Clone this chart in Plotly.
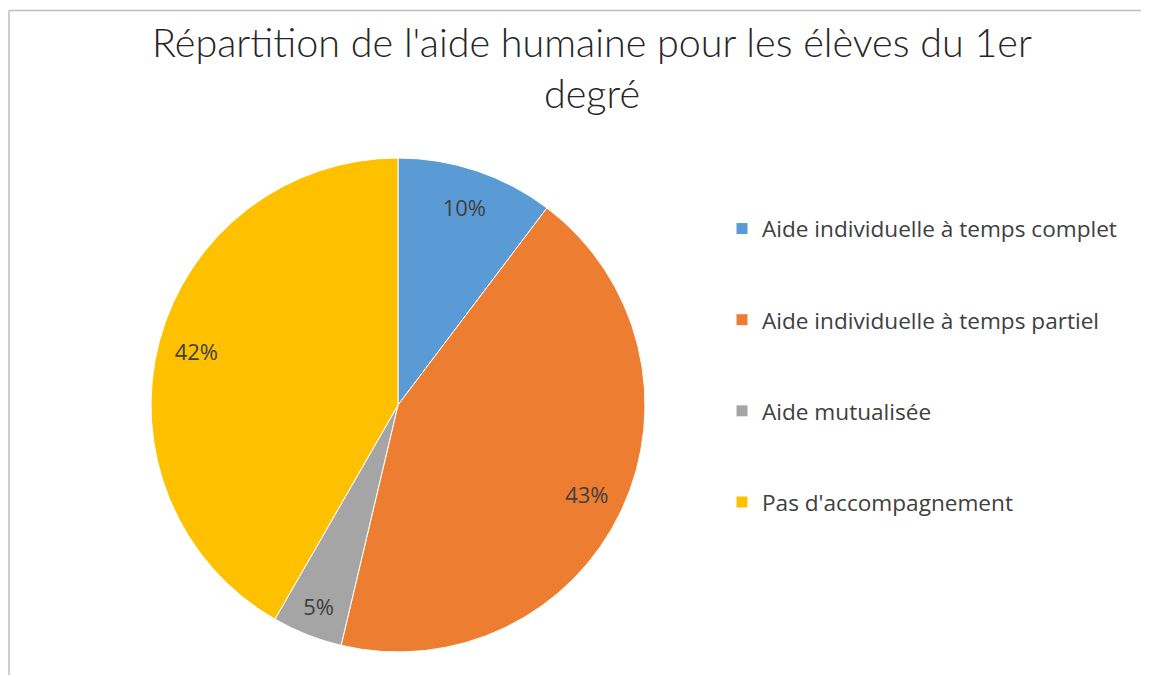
import plotly.graph_objects as go

categories = ["Aide individuelle à temps complet", "Aide individuelle à temps partiel",
              "Aide mutualisée", "Pas d'accompagnement"]
values = [10.3, 43.4, 4.6, 41.7]
colors = ["#5B9BD5", "#ED7D31", "#A5A5A5", "#FFC000"]
title_text = "Répartition de l'aide humaine pour les élèves du 1er<br>degré"

W, H = 1149, 675
legend_labels = ["<br>" + c + "<br>" for c in categories]
pie_domain = dict(x=[143 / W, 637 / W], y=[1 - 644 / H, 1 - 150 / H])

fig = go.Figure()
fig.add_trace(go.Pie(
    labels=legend_labels,
    values=values,
    sort=False,
    direction="clockwise",
    rotation=0,
    marker=dict(colors=colors, line=dict(color="white", width=1)),
    textinfo="none",
    domain=pie_domain,
    hoverinfo="skip",
))
# transparent ring used only to place the percentage labels near the rim
fig.add_trace(go.Pie(
    labels=legend_labels,
    values=values,
    sort=False,
    direction="clockwise",
    rotation=0,
    hole=0.69,
    marker=dict(colors=["rgba(0,0,0,0)"] * len(values), line=dict(width=0)),
    texttemplate="%{percent:.0%}",
    textposition="inside",
    insidetextorientation="horizontal",
    textfont=dict(family="Open Sans", size=22, color="#404040"),
    domain=pie_domain,
    showlegend=False,
    hoverinfo="skip",
))

fig.update_layout(
    width=W, height=H,
    margin=dict(l=0, r=0, t=0, b=0),
    paper_bgcolor="white",
    title=dict(text=title_text, x=584 / W, xanchor="center", y=1 - 49 / H, yanchor="top",
               font=dict(family="Lato", size=39.5, color="#262626", weight=300)),
    legend=dict(x=714 / W, y=1 - 170 / H, xanchor="left", yanchor="top",
                font=dict(family="Open Sans", size=22.6, color="#404040"),
                valign="middle", itemwidth=30),
    shapes=[
        dict(type="line", xref="paper", yref="paper", x0=1 / W, x1=1.01, y0=1 - 2.5 / H, y1=1 - 2.5 / H,
             line=dict(color="#BFBFBF", width=1.5)),
        dict(type="line", xref="paper", yref="paper", x0=1 / W, x1=1 / W, y0=1 - 2.5 / H, y1=-0.01,
             line=dict(color="#BFBFBF", width=1.5)),
    ],
)

fig.write_html("out.html")
